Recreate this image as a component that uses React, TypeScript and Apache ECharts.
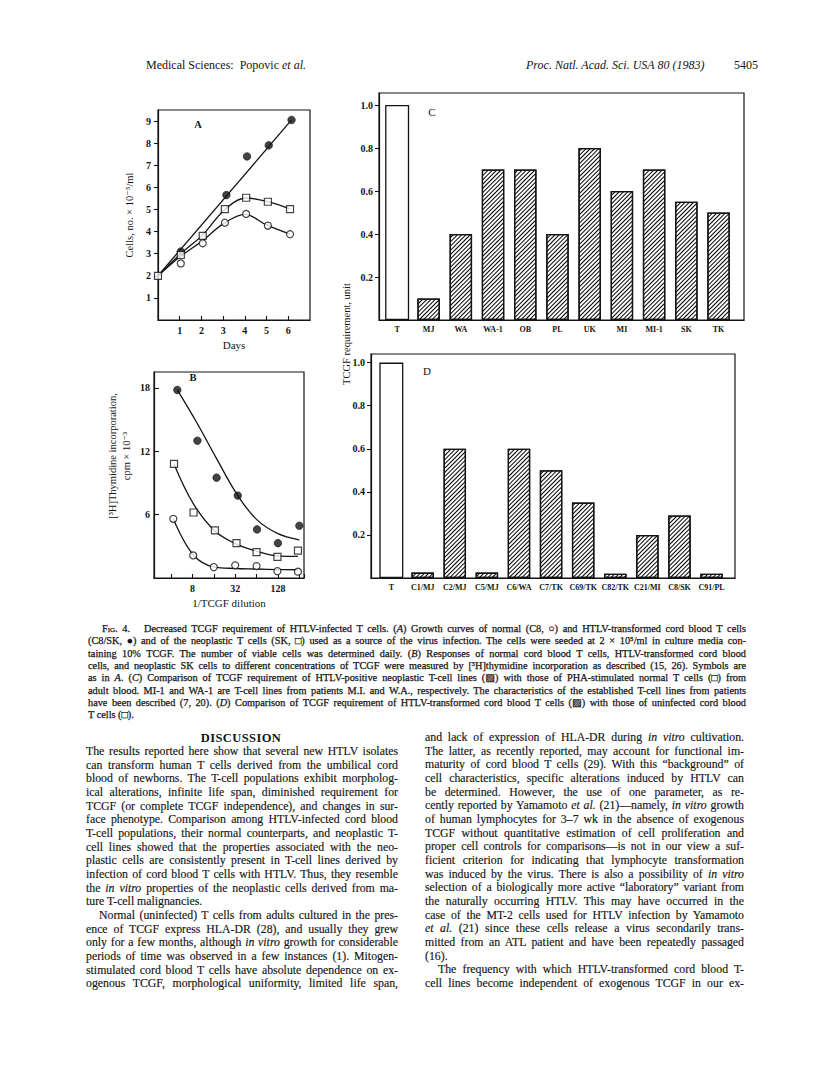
import React, { useEffect, useLayoutEffect, useRef } from "react";
import * as echarts from "echarts";

// ---------------- Panel A: growth curves (days vs cells ×10^-5/ml) ----------------
const aFilledDays = [1.05, 3.15, 4.1, 5.1, 6.15];
const aFilledCells = [3.1, 5.65, 7.4, 7.9, 9.05];
const aSquareDays = [0, 1.05, 2.06, 3.08, 4.06, 5.06, 6.08];
const aSquareCells = [2.0, 2.94, 3.81, 5.02, 5.53, 5.35, 5.02];
const aCircleDays = [1.05, 2.06, 3.08, 4.06, 5.06, 6.08];
const aCircleCells = [2.56, 3.47, 4.4, 4.8, 4.27, 3.88];
const aFitFilledDays = [0, 6.15];
const aFitFilledCells = [2.0, 9.05];
const aFitSquareDays = [0, 1.05, 2.06, 3.08, 4.06, 5.06, 6.08];
const aFitSquareCells = [2.0, 3.0, 3.85, 5.0, 5.52, 5.35, 5.02];
const aFitCircleDays = [0, 1, 2, 3, 4, 5, 6.08];
const aFitCircleCells = [2.0, 2.85, 3.55, 4.35, 4.78, 4.3, 3.88];
const aXTicks = [1, 2, 3, 4, 5, 6];
const aYTicks = [1, 2, 3, 4, 5, 6, 7, 8, 9];

// ---------------- Panel B: [3H]thymidine incorporation vs 1/TCGF dilution ----------------
const bFilledDil = [4.9, 9.4, 17.5, 34.8, 65, 128, 256];
const bFilledCpm = [17.8, 13.0, 9.5, 7.8, 4.6, 3.3, 4.95];
const bSquareDil = [4.4, 8.3, 16.6, 33.4, 64, 126, 245];
const bSquareCpm = [10.8, 6.2, 4.5, 3.3, 2.45, 2.0, 2.6];
const bCircleDil = [4.3, 8.2, 16, 32, 64, 126, 245];
const bCircleCpm = [5.6, 2.14, 1.03, 1.2, 1.13, 0.65, 0.6];
const bFitFilledDil = [4.9, 9.4, 17.5, 34.8, 65, 128, 256];
const bFitFilledCpm = [17.8, 14.6, 11.3, 7.8, 5.5, 4.2, 3.6];
const bFitSquareDil = [4.4, 8.3, 16.6, 33.4, 64, 126, 245];
const bFitSquareCpm = [10.8, 7.0, 4.45, 3.2, 2.55, 2.1, 2.05];
const bFitCircleDil = [4.3, 8.2, 16, 32, 64, 126, 245];
const bFitCircleCpm = [5.6, 2.2, 1.05, 0.9, 0.85, 0.8, 0.78];
const bXLabels = [8, 32, 128];
const bYTicks = [6, 12, 18];

// ---------------- Panel C: TCGF requirement, neoplastic T-cell lines ----------------
const cCategories = ["T", "MJ", "WA", "WA-1", "OB", "PL", "UK", "MI", "MI-1", "SK", "TK"];
const cValues = [1.0, 0.1, 0.4, 0.7, 0.7, 0.4, 0.8, 0.6, 0.7, 0.55, 0.5];

// ---------------- Panel D: TCGF requirement, transformed cord blood T cells ----------------
const dCategories = ["T", "C1/MJ", "C2/MJ", "C5/MJ", "C6/WA", "C7/TK", "C69/TK", "C82/TK", "C21/MI", "C8/SK", "C91/PL"];
const dValues = [1.0, 0.025, 0.6, 0.025, 0.6, 0.5, 0.35, 0.02, 0.2, 0.29, 0.02];

const cdYTicks = [0.2, 0.4, 0.6, 0.8, 1.0];

// ---------------- Page text ----------------
const captionLines = [
  "~Fig.~ 4.   Decreased TCGF requirement of HTLV-infected T cells. (*A*) Growth curves of normal (C8, ○) and HTLV-transformed cord blood T cells",
  "(C8/SK, ●) and of the neoplastic T cells (SK, □) used as a source of the virus infection. The cells were seeded at 2 × 10⁵/ml in culture media con-",
  "taining 10% TCGF. The number of viable cells was determined daily. (*B*) Responses of normal cord blood T cells, HTLV-transformed cord blood",
  "cells, and neoplastic SK cells to different concentrations of TCGF were measured by [³H]thymidine incorporation as described (15, 26). Symbols are",
  "as in *A*. (*C*) Comparison of TCGF requirement of HTLV-positive neoplastic T-cell lines (▨) with those of PHA-stimulated normal T cells (□) from",
  "adult blood. MI-1 and WA-1 are T-cell lines from patients M.I. and W.A., respectively. The characteristics of the established T-cell lines from patients",
  "have been described (7, 20). (*D*) Comparison of TCGF requirement of HTLV-transformed cord blood T cells (▨) with those of uninfected cord blood",
  "T cells (□).",
];
const leftColumn = [
  "The results reported here show that several new HTLV isolates",
  "can transform human T cells derived from the umbilical cord",
  "blood of newborns. The T-cell populations exhibit morpholog-",
  "ical alterations, infinite life span, diminished requirement for",
  "TCGF (or complete TCGF independence), and changes in sur-",
  "face phenotype. Comparison among HTLV-infected cord blood",
  "T-cell populations, their normal counterparts, and neoplastic T-",
  "cell lines showed that the properties associated with the neo-",
  "plastic cells are consistently present in T-cell lines derived by",
  "infection of cord blood T cells with HTLV. Thus, they resemble",
  "the *in vitro* properties of the neoplastic cells derived from ma-",
  "ture T-cell malignancies.",
  "Normal (uninfected) T cells from adults cultured in the pres-",
  "ence of TCGF express HLA-DR (28), and usually they grew",
  "only for a few months, although *in vitro* growth for considerable",
  "periods of time was observed in a few instances (1). Mitogen-",
  "stimulated cord blood T cells have absolute dependence on ex-",
  "ogenous TCGF, morphological uniformity, limited life span,",
];
const rightColumn = [
  "and lack of expression of HLA-DR during *in vitro* cultivation.",
  "The latter, as recently reported, may account for functional im-",
  "maturity of cord blood T cells (29). With this “background” of",
  "cell characteristics, specific alterations induced by HTLV can",
  "be determined. However, the use of one parameter, as re-",
  "cently reported by Yamamoto *et al.* (21)—namely, *in vitro* growth",
  "of human lymphocytes for 3–7 wk in the absence of exogenous",
  "TCGF without quantitative estimation of cell proliferation and",
  "proper cell controls for comparisons—is not in our view a suf-",
  "ficient criterion for indicating that lymphocyte transformation",
  "was induced by the virus. There is also a possibility of *in vitro*",
  "selection of a biologically more active “laboratory” variant from",
  "the naturally occurring HTLV. This may have occurred in the",
  "case of the MT-2 cells used for HTLV infection by Yamamoto",
  "*et al.* (21) since these cells release a virus secondarily trans-",
  "mitted from an ATL patient and have been repeatedly passaged",
  "(16).",
  "The frequency with which HTLV-transformed cord blood T-",
  "cell lines become independent of exogenous TCGF in our ex-",
];

const ink = "#141414";
const serif = '"Liberation Serif", "DejaVu Serif", serif';

const zip = (xs: number[], ys: number[]) => xs.map((x, i) => [x, ys[i]]);

function buildOption(): any {
  const axisLine = { show: true, onZero: false, lineStyle: { color: ink, width: 1.2 } };
  const tickStyle = { color: ink, width: 1.1 };
  const tickFont = { fontFamily: serif, fontWeight: "bold", fontSize: 10, color: ink };
  const catFont = { fontFamily: serif, fontWeight: "bold", fontSize: 8, color: ink };
  const gridBase = { show: true, borderColor: ink, borderWidth: 1.2, backgroundColor: "transparent", containLabel: false, outerBoundsMode: "none" };
  const hatch = {
    symbol: "rect",
    symbolSize: 1,
    color: "#000000",
    backgroundColor: "#ffffff",
    dashArrayX: [1, 0],
    dashArrayY: [1, 1.6],
    rotation: -Math.PI / 4,
  };
  const lineS = (gi: number, data: number[][], smooth: boolean | number) => ({
    type: "line",
    xAxisIndex: gi,
    yAxisIndex: gi,
    data,
    smooth,
    symbol: "none",
    lineStyle: { color: ink, width: 1.3 },
    z: 2,
    silent: true,
  });
  const scat = (gi: number, data: number[][], symbol: string, filled: boolean, size: number) => ({
    type: "scatter",
    xAxisIndex: gi,
    yAxisIndex: gi,
    data,
    symbol,
    symbolSize: size,
    itemStyle: filled
      ? { color: ink, borderColor: ink, borderWidth: 0.8 }
      : { color: "#ffffff", borderColor: ink, borderWidth: 1.2 },
    z: 5,
  });
  const barLabel = { show: true, position: "bottom", distance: 5, formatter: "{b}", ...catFont };
  const barSeries = (gi: number, cats: string[], vals: number[], plain: boolean) => {
    const data = vals
      .map((v, i) => ({ value: [i, v], name: cats[i] }))
      .filter((_, i) => (plain ? i === 0 : i > 0));
    return {
      type: "bar",
      xAxisIndex: gi,
      yAxisIndex: gi,
      data,
      barWidth: plain ? 24 : 22.5,
      barGap: "-100%",
      itemStyle: plain
        ? { color: "#ffffff", borderColor: ink, borderWidth: 1.3 }
        : { color: "#ffffff", borderColor: ink, borderWidth: 1.3, decal: hatch },
      label: barLabel,
      z: 3,
    };
  };

  const isInt = (v: number) => Math.abs(v - Math.round(v)) < 1e-6;
  const barY = (gi: number, max: number, margin: number) => ({
    gridIndex: gi,
    type: "value",
    min: 0,
    max,
    interval: 0.2,
    axisLine,
    axisTick: { show: true, inside: false, length: 4, lineStyle: tickStyle, customValues: cdYTicks },
    splitLine: { show: false },
    axisLabel: {
      ...tickFont,
      margin,
      customValues: cdYTicks,
      formatter: (v: number) => (v > 0.05 && v < 1.01 ? v.toFixed(1) : ""),
    },
  });
  const barX = (gi: number, min: number, max: number) => ({
    gridIndex: gi,
    type: "value",
    min,
    max,
    axisLine,
    axisTick: { show: false },
    axisLabel: { show: false },
    splitLine: { show: false },
  });

  return {
    animation: false,
    backgroundColor: "#ffffff",
    grid: [
      { ...gridBase, left: 158, top: 110, width: 152, height: 210 },
      { ...gridBase, left: 154, top: 372, width: 150, height: 206 },
      { ...gridBase, left: 379, top: 93, width: 365, height: 227 },
      { ...gridBase, left: 371, top: 354, width: 364, height: 224 },
    ],
    xAxis: [
      {
        gridIndex: 0,
        type: "value",
        min: 0,
        max: 7,
        interval: 1,
        axisLine,
        axisTick: { show: true, inside: true, length: 4, lineStyle: tickStyle, customValues: aXTicks },
        splitLine: { show: false },
        axisLabel: {
          ...tickFont,
          margin: 5,
          customValues: aXTicks,
          formatter: (v: number) => (isInt(v) && aXTicks.includes(Math.round(v)) ? String(Math.round(v)) : ""),
        },
        name: "Days",
        nameLocation: "middle",
        nameGap: 19,
        nameTextStyle: { fontFamily: serif, fontSize: 11, color: ink },
      },
      {
        gridIndex: 1,
        type: "log",
        logBase: 2,
        min: 2.3,
        max: 298,
        axisLine,
        axisTick: { show: true, inside: true, length: 4, lineStyle: tickStyle },
        minorTick: { show: false },
        splitLine: { show: false },
        axisLabel: {
          ...tickFont,
          margin: 5,
          formatter: (v: number) => {
            const r = Math.round(v);
            return Math.abs(v - r) < 0.05 && bXLabels.includes(r) ? String(r) : "";
          },
        },
        name: "1/TCGF dilution",
        nameLocation: "middle",
        nameGap: 19,
        nameTextStyle: { fontFamily: serif, fontSize: 11, color: ink },
      },
      barX(2, -0.54, 10.79),
      barX(3, -0.61, 10.73),
    ],
    yAxis: [
      {
        gridIndex: 0,
        type: "value",
        min: 0,
        max: 9.5,
        interval: 1,
        axisLine,
        axisTick: { show: true, inside: false, length: 4, lineStyle: tickStyle, customValues: aYTicks },
        splitLine: { show: false },
        axisLabel: {
          ...tickFont,
          margin: 7,
          customValues: aYTicks,
          formatter: (v: number) => (isInt(v) && aYTicks.includes(Math.round(v)) ? String(Math.round(v)) : ""),
        },
        name: "Cells, no. × 10⁻⁵/ml",
        nameLocation: "middle",
        nameGap: 23,
        nameRotate: 90,
        nameTextStyle: { fontFamily: serif, fontSize: 10.5, color: ink },
      },
      {
        gridIndex: 1,
        type: "value",
        min: 0,
        max: 19.5,
        interval: 6,
        axisLine,
        axisTick: { show: true, inside: true, length: 5, lineStyle: tickStyle, customValues: bYTicks },
        splitLine: { show: false },
        axisLabel: {
          ...tickFont,
          margin: 4,
          customValues: bYTicks,
          formatter: (v: number) => (isInt(v) && bYTicks.includes(Math.round(v)) ? String(Math.round(v)) : ""),
        },
      },
      barY(2, 1.056, 6),
      barY(3, 1.04, 6),
    ],
    series: [
      // Panel A
      lineS(0, zip(aFitFilledDays, aFitFilledCells), false),
      lineS(0, zip(aFitSquareDays, aFitSquareCells), 0.35),
      lineS(0, zip(aFitCircleDays, aFitCircleCells), 0.35),
      scat(0, zip(aFilledDays, aFilledCells), "circle", true, 7.5),
      scat(0, zip(aSquareDays, aSquareCells), "rect", false, 7),
      scat(0, zip(aCircleDays, aCircleCells), "circle", false, 7),
      // Panel B
      lineS(1, zip(bFitFilledDil, bFitFilledCpm), 0.35),
      lineS(1, zip(bFitSquareDil, bFitSquareCpm), 0.4),
      lineS(1, zip(bFitCircleDil, bFitCircleCpm), 0.4),
      scat(1, zip(bFilledDil, bFilledCpm), "circle", true, 7.5),
      scat(1, zip(bSquareDil, bSquareCpm), "rect", false, 7),
      scat(1, zip(bCircleDil, bCircleCpm), "circle", false, 7),
      // Panel C
      barSeries(2, cCategories, cValues, true),
      barSeries(2, cCategories, cValues, false),
      // Panel D
      barSeries(3, dCategories, dValues, true),
      barSeries(3, dCategories, dValues, false),
    ],
    graphic: {
      elements: [
        { type: "text", x: 198, y: 124, style: { text: "A", fontFamily: serif, fontWeight: "bold", fontSize: 10.5, fill: ink, align: "center", verticalAlign: "middle", textAlign: "center", textVerticalAlign: "middle" } },
        { type: "text", x: 193, y: 377, style: { text: "B", fontFamily: serif, fontWeight: "bold", fontSize: 10.5, fill: ink, align: "center", verticalAlign: "middle", textAlign: "center", textVerticalAlign: "middle" } },
        { type: "text", x: 432, y: 112, style: { text: "C", fontFamily: serif, fontWeight: "normal", fontSize: 11, fill: ink, align: "center", verticalAlign: "middle", textAlign: "center", textVerticalAlign: "middle" } },
        { type: "text", x: 427, y: 371, style: { text: "D", fontFamily: serif, fontWeight: "normal", fontSize: 11, fill: ink, align: "center", verticalAlign: "middle", textAlign: "center", textVerticalAlign: "middle" } },
        {
          type: "text",
          x: 119,
          y: 456,
          rotation: Math.PI / 2,
          style: {
            text: "[³H]Thymidine incorporation,\ncpm × 10⁻³",
            fontFamily: serif,
            fontSize: 10.5,
            lineHeight: 14,
            fill: ink,
            align: "center",
            verticalAlign: "middle",
            textAlign: "center",
            textVerticalAlign: "middle",
          },
        },
        {
          type: "text",
          x: 346,
          y: 334,
          rotation: Math.PI / 2,
          style: {
            text: "TCGF requirement, unit",
            fontFamily: serif,
            fontSize: 10.5,
            fill: ink,
            align: "center",
            verticalAlign: "middle",
            textAlign: "center",
            textVerticalAlign: "middle",
          },
        },
      ],
    },
  };
}

function rich(s: string) {
  // *...* italic, ~...~ small caps
  const out: React.ReactNode[] = [];
  const re = /(\*[^*]+\*|~[^~]+~)/g;
  let last = 0;
  let m: RegExpExecArray | null;
  let k = 0;
  while ((m = re.exec(s))) {
    if (m.index > last) out.push(<span key={k++}>{s.slice(last, m.index)}</span>);
    const t = m[0];
    if (t[0] === "*") out.push(<i key={k++}>{t.slice(1, -1)}</i>);
    else out.push(<span key={k++} style={{ fontVariant: "small-caps" }}>{t.slice(1, -1)}</span>);
    last = m.index + t.length;
  }
  if (last < s.length) out.push(<span key={k++}>{s.slice(last)}</span>);
  return out;
}

type LineProps = { x: number; cy: number; w?: number; size: number; lh: number; text: string; just?: boolean; bold?: boolean; italic?: boolean; center?: boolean; ls?: number; stroke?: number };
function TextLine({ x, cy, w, size, lh, text, just, bold, italic, center, ls, stroke }: LineProps) {
  return (
    <div
      data-j={just && w ? String(w) : undefined}
      style={{
        position: "absolute",
        left: x,
        top: cy - lh / 2,
        height: lh,
        lineHeight: `${lh}px`,
        fontSize: size,
        fontFamily: serif,
        fontWeight: bold ? "bold" : "normal",
        fontStyle: italic ? "italic" : "normal",
        whiteSpace: "pre",
        color: ink,
        letterSpacing: ls ? `${ls}px` : undefined,
        transform: center ? "translateX(-50%)" : undefined,
        WebkitTextStroke: stroke ? `${stroke}px ${ink}` : undefined,
      }}
    >
      {rich(text)}
    </div>
  );
}

export default function App() {
  const chartRef = useRef<HTMLDivElement>(null);
  const textRef = useRef<HTMLDivElement>(null);

  useEffect(() => {
    if (!chartRef.current) return;
    const chart = echarts.init(chartRef.current, null, { renderer: "svg" });
    chart.setOption(buildOption());
    return () => chart.dispose();
  }, []);

  useLayoutEffect(() => {
    const root = textRef.current;
    if (!root) return;
    root.querySelectorAll<HTMLElement>("[data-j]").forEach((el) => {
      const target = parseFloat(el.dataset.j || "0");
      el.style.wordSpacing = "0px";
      const w = el.getBoundingClientRect().width;
      const n = (el.textContent || "").split(" ").length - 1;
      if (n > 0) el.style.wordSpacing = `${(target - w) / n}px`;
    });
  }, []);

  const capSize = 10.3;
  const capLh = 12.35;
  const bodySize = 11.8;
  const bodyLh = 13.65;
  const textRight = 746;
  const leftX = 86;
  const leftRight = 398;
  const rightX = 425;

  return (
    <div style={{ position: "absolute", left: 0, top: 0, width: 816, height: 1067, background: "#fff", overflow: "hidden" }}>
      <div ref={chartRef} style={{ position: "absolute", left: 0, top: 0, width: 816, height: 1067 }} />
      <div ref={textRef} style={{ position: "absolute", left: 0, top: 0, width: 816, height: 1067, pointerEvents: "none" }}>
        <TextLine x={146} cy={65} size={12} lh={14} text={"Medical Sciences:  Popovic *et al.*"} />
        <TextLine x={526} cy={65} size={12} lh={14} italic text={"Proc. Natl. Acad. Sci. USA 80 (1983)"} />
        <TextLine x={734} cy={65} size={12} lh={14} text={"5405"} />

        {captionLines.map((t, i) => (
          <TextLine
            key={"c" + i}
            x={i === 0 ? 102 : 88}
            cy={629 + i * capLh}
            w={i === 0 ? textRight - 102 : textRight - 88}
            size={capSize}
            lh={capLh}
            text={t}
            stroke={0.25}
            just={i !== captionLines.length - 1}
          />
        ))}

        <TextLine x={241} cy={738} size={12.5} lh={15} bold center ls={0.4} text={"DISCUSSION"} />

        {leftColumn.map((t, i) => {
          const indent = i === 12 ? 13 : 0;
          return (
            <TextLine
              key={"l" + i}
              x={leftX + indent}
              cy={752 + i * bodyLh}
              w={leftRight - leftX - indent}
              size={bodySize}
              lh={bodyLh}
              text={t}
              stroke={0.15}
              just={i !== 11}
            />
          );
        })}

        {rightColumn.map((t, i) => {
          const indent = i === 17 ? 13 : 0;
          return (
            <TextLine
              key={"r" + i}
              x={rightX + indent}
              cy={738 + i * bodyLh}
              w={textRight - 2 - rightX - indent}
              size={bodySize}
              lh={bodyLh}
              text={t}
              stroke={0.15}
              just={i !== 16}
            />
          );
        })}
      </div>
    </div>
  );
}
